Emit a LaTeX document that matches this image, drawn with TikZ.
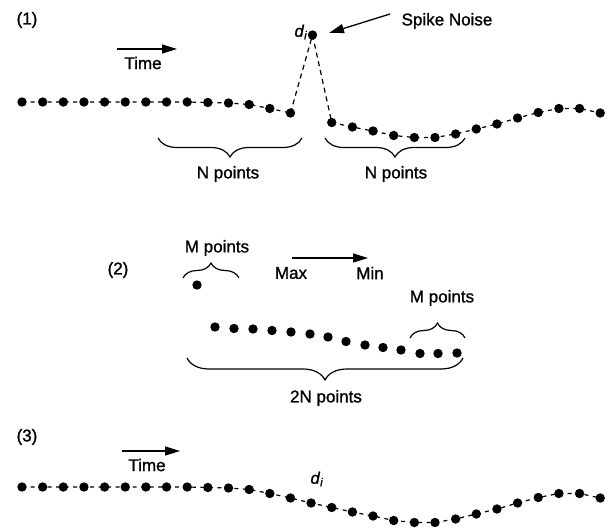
\documentclass[tikz,border=0pt]{standalone}
\usepackage{fontspec}
\setmainfont{Liberation Sans}[BoldFont={Liberation Sans},BoldFeatures={FakeBold=1.2},
  BoldItalicFont={Liberation Sans Italic},BoldItalicFeatures={FakeBold=1.2}]
\usetikzlibrary{arrows.meta,decorations.pathreplacing}
\begin{document}
\begin{tikzpicture}[x=1pt,y=-1pt,
  dot/.style={circle,fill=black,inner sep=0pt,minimum size=9.4pt},
  link/.style={line width=1.2pt,dash pattern=on 4pt off 4.5pt},
  spikelink/.style={line width=1.2pt,dash pattern=on 5pt off 4pt},
  arr/.style={line width=1.3pt,-{Triangle[length=15pt,width=9pt]}},
  curly/.style={line width=1.2pt,decorate,decoration={brace,amplitude=#1}},
  lbl/.style={inner sep=0pt,font=\fontsize{17}{20}\selectfont\bfseries},
  sym/.style={inner sep=0pt,font=\fontsize{16.5}{19}\selectfont\bfseries},
]
\useasboundingbox (0,0) rectangle (614,530);

% ---------- (1) series with a spike ----------
\node[lbl] (lab1) at (27,20) {(1)};
\coordinate (t1a) at (117,49);
\coordinate (t1b) at (177,49);
\draw[arr] (t1a) -- (t1b);
\node[lbl] (time1) at (143,63) {Time};

% vertical profile of the series (pixel rows)
\foreach \y [count=\k] in {102,102,102,102,102,102,102,102,102,102.5,103,104.5,108.5,113,
                           118,122.5,127,131,135.5,137.5,137.5,134,129,124,118,112.5,108.5,108.5,113}{
  \coordinate (r\k) at ({22+20.65*(\k-1)},\y);
  \coordinate (s\k) at ({22+20.65*(\k-1)},\y+385);
}
\coordinate (spike) at (312.5,35);

\draw[link] (r1) \foreach \k in {2,...,14}{ -- (r\k)};
\draw[spikelink] (r14) -- (spike) -- (r16);
\draw[link] (r16) \foreach \k in {17,...,29}{ -- (r\k)};
\foreach \k in {1,...,14}{ \node[dot] (a\k) at (r\k) {}; }
\foreach \k in {16,...,29}{ \node[dot] (a\k) at (r\k) {}; }
\node[dot] (spikedot) at (spike) {};
\node[sym] (di1) at (301,32) {\textit{d}\textsubscript{\textit{i}}};

\node[lbl] (spk) at (447,21) {Spike Noise};
\coordinate (spkt) at (390,14);
\coordinate (spkh) at (329,33);
\draw[arr] (spkt) -- (spkh);

\coordinate (b1r) at (302,138);
\coordinate (b1l) at (158,138);
\draw[curly=19pt] (b1r) -- (b1l);
\node[lbl] (np1) at (228,174) {N points};
\coordinate (b2r) at (465,138);
\coordinate (b2l) at (325,138);
\draw[curly=19pt] (b2r) -- (b2l);
\node[lbl] (np2) at (396,174) {N points};

% ---------- (2) sorted window ----------
\node[lbl] (lab2) at (118,270) {(2)};
\node[lbl] (mp1) at (217,248) {M points};
\coordinate (m1l) at (183,278);
\coordinate (m1r) at (239,278);
\draw[curly=15pt] (m1l) -- (m1r);
\node[dot] (top) at (197,285) {};

\coordinate (mxa) at (292,258);
\coordinate (mxb) at (368,258);
\draw[arr] (mxa) -- (mxb);
\node[lbl] (max) at (291,273) {Max};
\node[lbl] (min) at (370,273) {Min};

\foreach \x/\y [count=\k] in {215/327,234/328.5,253/329,272/330.5,291/332,310/334,328/337,
                              346/341.5,365/345,383/347.5,401/350,420/353.5,438/353.5,457/353}{
  \node[dot] (w\k) at (\x,\y) {};
}
\node[lbl] (mp2) at (442,298) {M points};
\coordinate (m2l) at (410,338);
\coordinate (m2r) at (465,338);
\draw[curly=15pt] (m2l) -- (m2r);

\coordinate (nnr) at (463,358);
\coordinate (nnl) at (187,358);
\draw[curly=22pt] (nnr) -- (nnl);
\node[lbl] (np3) at (326,398) {2N points};

% ---------- (3) smoothed series ----------
\node[lbl] (lab3) at (27,437) {(3)};
\coordinate (t3a) at (122,451);
\coordinate (t3b) at (180,451);
\draw[arr] (t3a) -- (t3b);
\node[lbl] (time3) at (147,465) {Time};

\draw[link] (s1) \foreach \k in {2,...,29}{ -- (s\k)};
\foreach \k in {1,...,29}{ \node[dot] (c\k) at (s\k) {}; }
\node[sym] (di3) at (317,479) {\textit{d}\textsubscript{\textit{i}}};
\end{tikzpicture}
\end{document}
